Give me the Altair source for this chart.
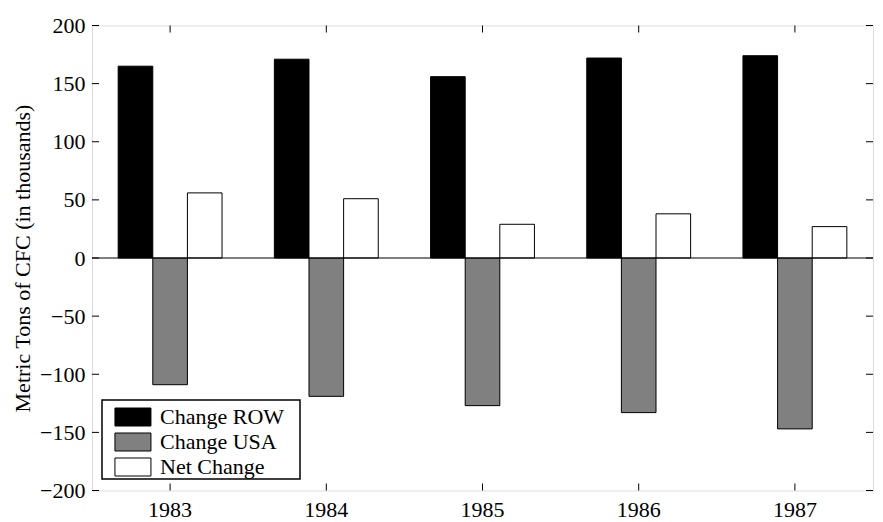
import altair as alt
import pandas as pd

years = ["1983", "1984", "1985", "1986", "1987"]
change_row = [165, 171, 156, 172, 174]
change_usa = [-109, -119, -127, -133, -147]
net_change = [56, 51, 29, 38, 27]
series = ["Change ROW", "Change USA", "Net Change"]
y_ticks = [-200, -150, -100, -50, 0, 50, 100, 150, 200]

rows = []
for i, yr in enumerate(years):
    rows.append({"year": yr, "series": series[0], "value": change_row[i]})
    rows.append({"year": yr, "series": series[1], "value": change_usa[i]})
    rows.append({"year": yr, "series": series[2], "value": net_change[i]})
df = pd.DataFrame(rows)

W, H = 781, 465
FONT = "Liberation Serif"
FS = 22
TL = 7
LX, LY = 10, 374.5

xscale = alt.Scale(domain=years, paddingInner=0.335, paddingOuter=0.1675)
yscale = alt.Scale(domain=[-200, 200], nice=False, zero=False)

bars = alt.Chart(df).mark_bar(stroke="black", strokeWidth=1).encode(
    x=alt.X("year:N", scale=xscale, sort=years,
            axis=alt.Axis(title=None, labelAngle=0, tickSize=0, domain=False,
                          labelPadding=9, labelFont=FONT, labelFontSize=FS,
                          labelColor="black")),
    xOffset=alt.XOffset("series:N", sort=series,
                        scale=alt.Scale(paddingInner=0, paddingOuter=0)),
    y=alt.Y("value:Q", scale=yscale,
            axis=alt.Axis(title="Metric Tons of CFC (in thousands)", values=y_ticks,
                          tickSize=0, domain=False, grid=False, labelPadding=7,
                          labelFont=FONT, labelFontSize=FS, labelColor="black",
                          titleFont=FONT, titleFontSize=FS, titleFontWeight="normal",
                          titleColor="black", titlePadding=5)),
    color=alt.Color("series:N", sort=series,
                    scale=alt.Scale(domain=series, range=["#000000", "#808080", "#ffffff"]),
                    legend=alt.Legend(title=None, orient="none", legendX=LX, legendY=LY,
                                      symbolType="M-0.45,-1H3.55V1H-0.45Z", symbolSize=324,
                                      symbolStrokeColor="black", symbolStrokeWidth=1,
                                      labelFont=FONT, labelFontSize=FS, labelColor="black",
                                      labelOffset=30, rowPadding=3, padding=6,
                                      symbolOpacity=1)),
)

legend_box = alt.Chart(pd.DataFrame({"v": [0]})).mark_rect(
    fill="white", stroke="black", strokeWidth=1.5).encode(
    x=alt.value(LX), x2=alt.value(LX + 198), y=alt.value(LY), y2=alt.value(LY + 79))

zero = alt.Chart(pd.DataFrame({"v": [0]})).mark_rule(color="black", strokeWidth=1).encode(
    y=alt.Y("v:Q", scale=yscale), x=alt.value(0), x2=alt.value(W))

tick_df = pd.DataFrame({"year": years})
xt_top = alt.Chart(tick_df).mark_rule(color="black", strokeWidth=1).encode(
    x=alt.X("year:N", scale=xscale, sort=years, bandPosition=0.5),
    y=alt.value(0), y2=alt.value(TL))
xt_bot = alt.Chart(tick_df).mark_rule(color="black", strokeWidth=1).encode(
    x=alt.X("year:N", scale=xscale, sort=years, bandPosition=0.5),
    y=alt.value(H - TL), y2=alt.value(H))

ytick_df = pd.DataFrame({"v": y_ticks})
yt_left = alt.Chart(ytick_df).mark_rule(color="black", strokeWidth=1).encode(
    y=alt.Y("v:Q", scale=yscale), x=alt.value(0), x2=alt.value(TL))
yt_right = alt.Chart(ytick_df).mark_rule(color="black", strokeWidth=1).encode(
    y=alt.Y("v:Q", scale=yscale), x=alt.value(W - TL), x2=alt.value(W))

chart = alt.layer(bars, zero, xt_top, xt_bot, yt_left, yt_right, legend_box).properties(
    width=W, height=H,
    autosize=alt.AutoSizeParams(type="none"),
    padding={"left": 84, "top": 17.5, "right": 2, "bottom": 30},
).configure_view(stroke="black", strokeWidth=1.5).configure(background="white")

chart.save("out.html", embed_options={"renderer": "svg", "actions": False})
